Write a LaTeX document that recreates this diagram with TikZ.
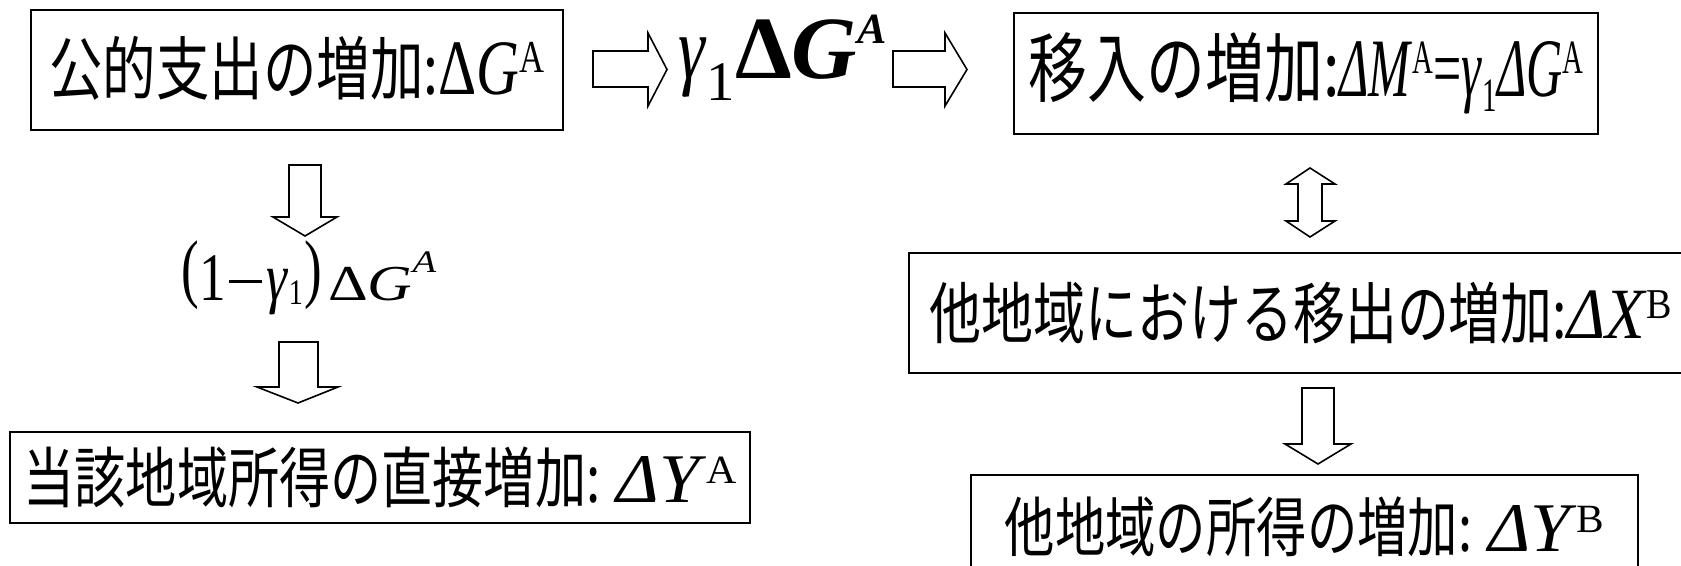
\documentclass[tikz,border=0pt]{standalone}
\usepackage{graphicx}
\usepackage{fontspec}
\setmainfont{Liberation Serif}
\newfontfamily\jpf[FakeStretch=0.775]{Noto Sans CJK JP}
\newcommand\fsz[1]{\fontsize{#1}{#1}\selectfont}
\newcommand\upsc[3]{\raisebox{#2}{\fsz{#1}#3}}
\newcommand\bigpar[1]{\raisebox{3.6pt}{\scalebox{1}[1.12]{#1}}}
\tikzset{
  box/.style={draw, line width=1pt, inner sep=0pt},
  blockarrow/.style={draw, fill=white, line width=0.8pt, line join=miter},
  formula/.style={inner sep=0pt}
}
\begin{document}
\begin{tikzpicture}[x=0.5pt,y=-0.5pt]
\useasboundingbox (0,0) rectangle (1681,566);
% boxes
\node[box, minimum width=266pt, minimum height=60pt] (b1) at (297,70)
  {\raisebox{5pt}{{\jpf\fsz{34.5pt}公的支出の増加:}\resizebox{53pt}{26pt}{\fsz{36pt}Δ\textit{G}\upsc{21pt}{10pt}{A}}}};
\node[box, minimum width=292pt, minimum height=60.5pt] (b2) at (1306,73.5)
  {{\jpf\fsz{38pt}移入の増加:}\resizebox{122pt}{27.5pt}{\fsz{33pt}\textit{ΔM}\upsc{19pt}{9pt}{A}=\textit{γ}\upsc{19pt}{-6pt}{1}\textit{ΔG}\upsc{19pt}{9pt}{A}}};
\node[box, minimum width=370pt, minimum height=45.5pt] (b3) at (380,477.5)
  {{\jpf\fsz{33pt}当該地域所得の直接増加:}\hspace{8pt}\resizebox{60pt}{23pt}{\fsz{33pt}\textit{ΔY}\upsc{19pt}{9pt}{A}}};
\node[box, minimum width=392pt, minimum height=60pt] (b4) at (1301,313)
  {{\jpf\fsz{33.5pt}他地域における移出の増加:}\resizebox{52.5pt}{24pt}{\fsz{34pt}\textit{ΔX}\upsc{20pt}{9.5pt}{B}}};
\node[box, minimum width=333.5pt, minimum height=52pt] (b5) at (1304.5,527)
  {{\jpf\fsz{32.5pt}他地域の所得の増加:}\hspace{8pt}\resizebox{58pt}{23pt}{\fsz{33pt}\textit{ΔY}\upsc{19pt}{9pt}{B}}};
% formulas
\node[formula, anchor=base west] (g1) at (678,79)
  {\resizebox{104pt}{32pt}{\fsz{35pt}\scalebox{0.75}[1]{\textit{γ}}\upsc{22pt}{-8.5pt}{1}{\bfseries Δ}{\bfseries\itshape G}\upsc{17pt}{14pt}{\bfseries\itshape A}}};
\node[formula, anchor=base west] (g2) at (181,301)
  {\scalebox{0.78}[1]{\fsz{34pt}\bigpar{(}\kern0.5pt 1\kern2pt\rule[9pt]{21pt}{1.3pt}\kern3pt\textit{γ}\upsc{18pt}{-2pt}{1}\kern1pt\bigpar{)}}\kern3pt\resizebox{54pt}{24.5pt}{\fsz{24pt}Δ\textit{G}\upsc{15pt}{13.5pt}{\textit{A}}}};
% block arrows
\draw[blockarrow] (593,51) -- (648,51) -- (648,33) -- (667,69.5) -- (648,106) -- (648,87) -- (593,87) -- cycle;
\draw[blockarrow] (893,51) -- (945,51) -- (945,33) -- (967,69.5) -- (945,106) -- (945,87) -- (893,87) -- cycle;
\draw[blockarrow] (289,165) -- (321,165) -- (321,217) -- (337,217) -- (305,236) -- (273,217) -- (289,217) -- cycle;
\draw[blockarrow] (279,342) -- (318,342) -- (318,387) -- (338,387) -- (298,403) -- (257,387) -- (279,387) -- cycle;
\draw[blockarrow] (1310,168) -- (1335,184) -- (1322,184) -- (1322,221) -- (1335,221) -- (1310,237) -- (1286,221) -- (1298,221) -- (1298,184) -- (1286,184) -- cycle;
\draw[blockarrow] (1302,388) -- (1334,388) -- (1334,444) -- (1351,444) -- (1318,464) -- (1285,444) -- (1302,444) -- cycle;
\end{tikzpicture}
\end{document}
